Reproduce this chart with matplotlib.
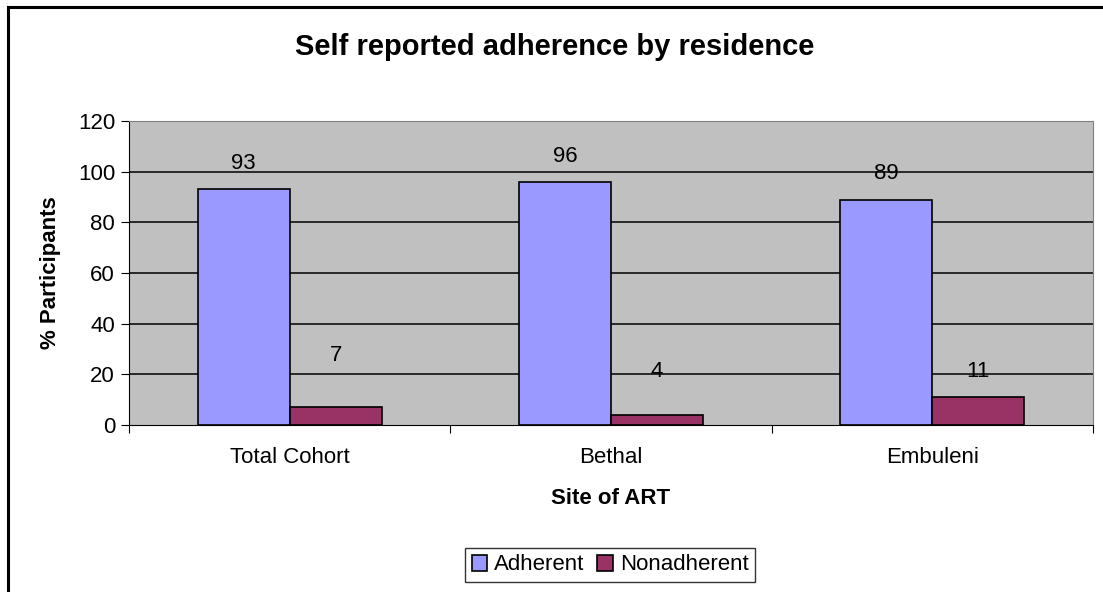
import matplotlib
matplotlib.use('Agg')
import matplotlib.pyplot as plt
import numpy as np
from matplotlib.lines import Line2D

plt.rcParams['font.family'] = ['Liberation Sans', 'DejaVu Sans']

# data
sites = ['Total Cohort', 'Bethal', 'Embuleni']
adherent = [93, 96, 89]
nonadherent = [7, 4, 11]
# label gaps above bars (pixels), as placed in the original
gap_adh = [26, 25, 26]
gap_non = [52, 43, 26]

fig = plt.figure(figsize=(11.03, 5.92), dpi=100)
ax = fig.add_axes([129/1103, 1-425/592, (1093-129)/1103, (425-121)/592])
ax.set_facecolor('#C0C0C0')

x = np.arange(len(sites))
w = 0.2865
ax.bar(x - w/2, adherent, w, color='#9999FF', edgecolor='black', linewidth=1.2,
       label='Adherent', zorder=3)
ax.bar(x + w/2, nonadherent, w, color='#993366', edgecolor='black', linewidth=1.2,
       label='Nonadherent', zorder=3)

for i in range(len(sites)):
    ax.annotate(str(adherent[i]), (x[i] - w/2, adherent[i]), xytext=(0, gap_adh[i]*0.72),
                textcoords='offset points', ha='center', va='center', fontsize=16, zorder=4)
    ax.annotate(str(nonadherent[i]), (x[i] + w/2, nonadherent[i]), xytext=(0, gap_non[i]*0.72),
                textcoords='offset points', ha='center', va='center', fontsize=16, zorder=4)

ax.set_xlim(-0.5, 2.5)
ax.set_ylim(0, 120)
ax.set_yticks(range(0, 121, 20))
ax.set_xticks([-0.5, 0.5, 1.5, 2.5])
ax.set_xticklabels([])
ax.set_xticks(x, minor=True)
ax.set_xticklabels(sites, minor=True)
ax.tick_params(axis='x', which='minor', length=0, labelsize=16, pad=16)
ax.tick_params(axis='x', which='major', length=6, direction='out', color='black')
ax.tick_params(axis='y', length=6, direction='out', labelsize=16, pad=4)

for yv in range(20, 101, 20):
    ax.axhline(yv, color='black', linewidth=1.1, zorder=1)

ax.spines['top'].set_color('#808080')
ax.spines['right'].set_color('#808080')
ax.spines['left'].set_color('black')
ax.spines['bottom'].set_color('black')

ax.set_xlabel('Site of ART', fontsize=16, fontweight='bold', labelpad=14)
ax.set_ylabel('% Participants', fontsize=16, fontweight='bold', labelpad=12)

fig.text(555/1103, 1-55/592, 'Self reported adherence by residence', fontsize=21,
         fontweight='bold', ha='center', va='baseline')

leg = fig.legend(loc='center', bbox_to_anchor=(610/1103, 1-565/592), ncol=2,
                 fontsize=16, frameon=True, fancybox=False, handlelength=0.7,
                 handleheight=0.7, handletextpad=0.3, columnspacing=0.6,
                 borderpad=0.3, borderaxespad=0)
leg.get_frame().set_edgecolor('black')
leg.get_frame().set_linewidth(1.0)

# outer chart border (top and left visible)
fig.add_artist(Line2D([8/1103, 1], [1-6.5/592, 1-6.5/592], color='black', linewidth=2.2))
fig.add_artist(Line2D([8/1103, 8/1103], [0, 1-6.5/592], color='black', linewidth=2.2))

fig.savefig('out.png', dpi=100)
